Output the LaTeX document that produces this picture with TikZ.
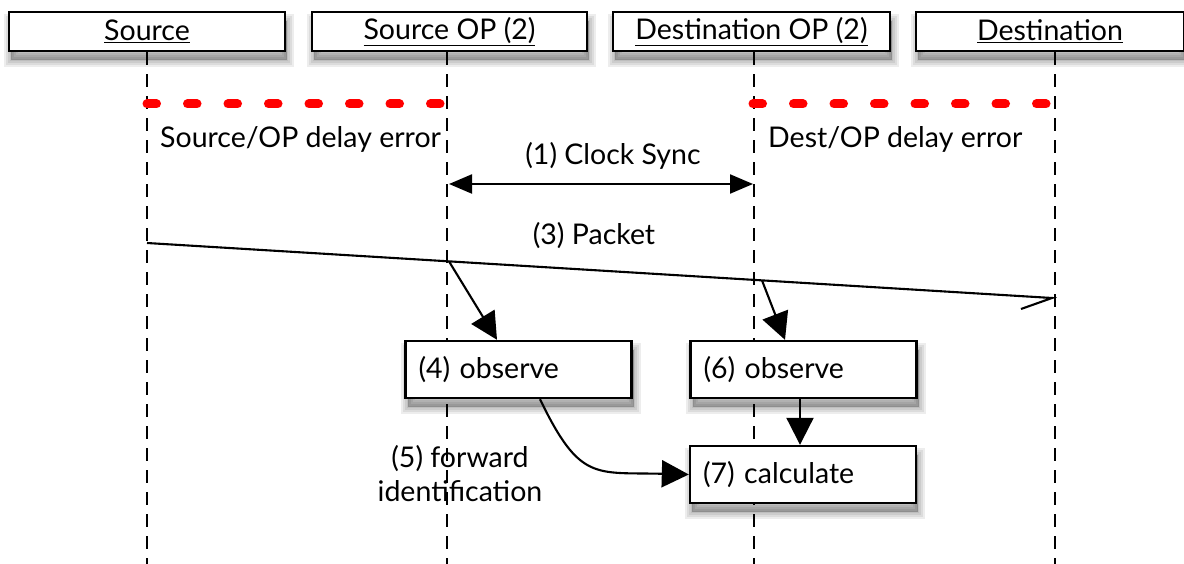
\documentclass[tikz,border=0pt]{standalone}
\usepackage{fontspec}
\setmainfont{Lato}
\usetikzlibrary{arrows.meta}
\begin{document}
\begin{tikzpicture}[x=1pt,y=-1pt,
  every node/.style={font=\fontsize{28.5}{34}\selectfont, inner sep=0pt},
  shl/.style={preaction={draw=black, line width=#1, fill=black, draw opacity=0.07, fill opacity=0.07, transform canvas={xshift=2pt, yshift=-9pt}}},
  shd/.style={shl=14pt, shl=10pt, shl=6pt, shl=2pt},
  hdr/.style={draw, line width=2.4pt, fill=white, minimum width=276pt, minimum height=39pt, shd},
  actbox/.style={draw, line width=2.4pt, fill=white, minimum width=226pt, minimum height=57pt,
    text width=200pt, align=left, shd},
  lifeline/.style={line width=2.1pt, dash pattern=on 13pt off 9pt},
  delay/.style={red, line width=9pt, line cap=round, dash pattern=on 9.5pt off 31pt},
  msg/.style={line width=2.1pt},
  bigtip/.style={-{Triangle[length=27pt,width=27pt]}},
]
\useasboundingbox (0,0) rectangle (1184,564);
% lifelines
\coordinate (sb) at (147,564);
\coordinate (ob) at (447,564);
\coordinate (db) at (754,564);
\coordinate (eb) at (1055,564);
\node[hdr] (S) at (147,31.5) {\underline{Source}};
\node[hdr, minimum width=275pt] (SO) at (449.5,31.5) {\underline{Source OP (2)}};
\node[hdr, minimum width=277pt] (DO) at (751.5,31.5) {\underline{Destination OP (2)}};
\node[hdr, minimum width=268pt] (D) at (1050,31.5) {\underline{Destination}};
\draw[lifeline] (S.south -| sb) -- (sb);
\draw[lifeline] (SO.south -| ob) -- (ob);
\draw[lifeline] (DO.south -| db) -- (db);
\draw[lifeline] (D.south -| eb) -- (eb);
% delay errors
\coordinate (d1a) at (147,104);
\coordinate (d1b) at (449,104);
\coordinate (d2a) at (753,104);
\coordinate (d2b) at (1055,104);
\draw[delay] (d1a) -- (d1b);
\draw[delay] (d2a) -- (d2b);
\node[anchor=west] (t1) at (160,139) {Source/OP delay error};
\node[anchor=west] (t2) at (768,139) {Dest/OP delay error};
% clock sync
\coordinate (c1) at (449,184);
\coordinate (c2) at (753,184);
\draw[msg, {Triangle[length=23pt,width=19pt]}-{Triangle[length=23pt,width=19pt]}] (c1) -- (c2);
\node (cs) at (613,156) {(1) Clock Sync};
% packet
\coordinate (p1) at (147,243);
\coordinate (p2) at (1052,298);
\coordinate (p3) at (1021,309);
\coordinate (x1) at (449,261.4);
\coordinate (x2) at (762,280.4);
\draw[msg] (p1) -- (p2) -- (p3);
\node (pk) at (594,236) {(3) Packet};
% boxes
\node[actbox] (o4) at (518.5,369.5) {(4) observe};
\node[actbox] (o6) at (803.5,369.5) {(6) observe};
\node[actbox] (c7) at (803,474.5) {(7) calculate};
\draw[msg, bigtip] (x1) -- (o4.north -| 497,0);
\draw[msg, bigtip] (x2) -- (o6.north -| 785,0);
\draw[msg, bigtip] (o6.south -| 800,0) -- (c7.north -| 800,0);
\draw[msg, bigtip] (o4.south -| 540,0) .. controls (580,482) and (595,472) .. (c7.west);
\node[align=center] (fw) at (460,474) {(5) forward\\identification};
\end{tikzpicture}
\end{document}
